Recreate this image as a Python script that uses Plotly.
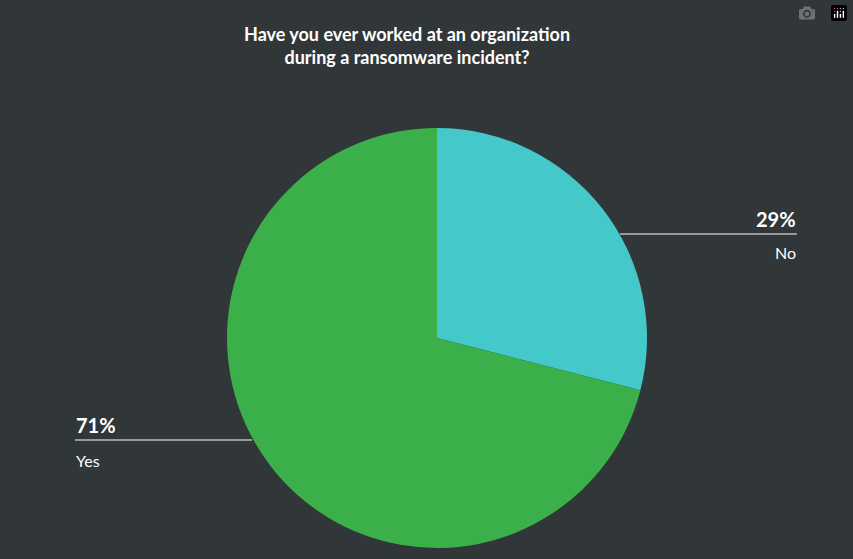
import plotly.graph_objects as go

labels = ["No", "Yes"]
values = [29, 71]
colors = ["#45C8C9", "#3BAF4A"]

W, H = 853, 559
fig = go.Figure(go.Pie(labels=labels, values=values, sort=False, direction="clockwise",
                       rotation=0, marker=dict(colors=colors, line=dict(width=0)),
                       textinfo="none", hoverinfo="label+percent",
                       domain=dict(x=[227/W, 647/W], y=[(H-548)/H, (H-128)/H])))

def px(x, y):
    return x / W, (H - y) / H

shapes = []
anns = []
x0, y0 = px(620, 234); x1, _ = px(797, 234)
shapes.append(dict(type="line", xref="paper", yref="paper", x0=x0, y0=y0, x1=x1, y1=y0,
                   line=dict(color="white", width=1)))
ax, ay = px(798, 219)
anns.append(dict(x=ax, y=ay, xref="paper", yref="paper", text=f"<b>{values[0]}%</b>",
                 xanchor="right", yanchor="middle", showarrow=False, font=dict(size=20, color="white")))
ax, ay = px(798, 253)
anns.append(dict(x=ax, y=ay, xref="paper", yref="paper", text=labels[0],
                 xanchor="right", yanchor="middle", showarrow=False, font=dict(size=16, color="white")))
x0, y0 = px(75, 440); x1, _ = px(252, 440)
shapes.append(dict(type="line", xref="paper", yref="paper", x0=x0, y0=y0, x1=x1, y1=y0,
                   line=dict(color="white", width=1)))
ax, ay = px(74, 425)
anns.append(dict(x=ax, y=ay, xref="paper", yref="paper", text=f"<b>{values[1]}%</b>",
                 xanchor="left", yanchor="middle", showarrow=False, font=dict(size=20, color="white")))
ax, ay = px(74, 460)
anns.append(dict(x=ax, y=ay, xref="paper", yref="paper", text=labels[1],
                 xanchor="left", yanchor="middle", showarrow=False, font=dict(size=16, color="white")))
ax, ay = px(407, 46)
anns.append(dict(x=ax, y=ay, xref="paper", yref="paper",
                 text="<b>Have you ever worked at an organization<br>during a ransomware incident?</b>",
                 xanchor="center", yanchor="middle", showarrow=False,
                 font=dict(size=18, color="white")))

fig.update_layout(width=W, height=H, margin=dict(l=0, r=0, t=0, b=0),
                  paper_bgcolor="#313638", plot_bgcolor="#313638", showlegend=False,
                  font=dict(family="Lato, Open Sans, sans-serif", color="white"),
                  shapes=shapes, annotations=anns)
fig.write_html("out.html", post_script="document.body.style.margin='0';document.body.style.background='#313638';")
